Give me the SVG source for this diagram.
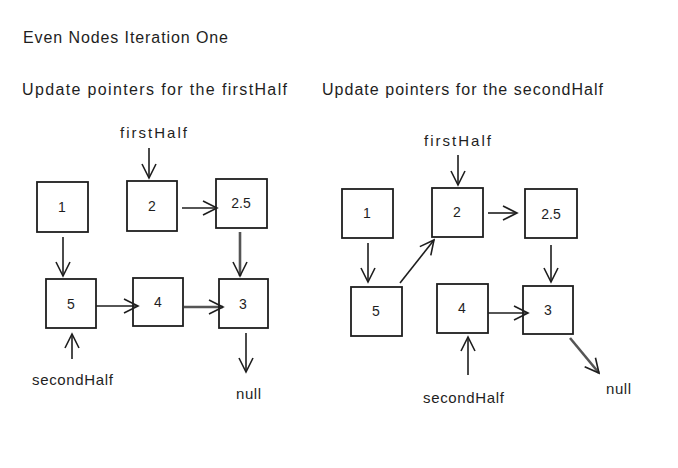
<svg xmlns="http://www.w3.org/2000/svg" width="678" height="468" viewBox="0 0 678 468">
<style>
.box{fill:none;stroke:#1e1e1e;stroke-width:1.8}
.t{font-family:"Liberation Sans",Arial,sans-serif;font-size:16px;fill:#1e1e1e}
.n{font-family:"Liberation Sans",Arial,sans-serif;font-size:14px;fill:#1e1e1e;text-anchor:middle;dominant-baseline:central}
.l{font-family:"Liberation Sans",Arial,sans-serif;font-size:15px;fill:#1e1e1e;dominant-baseline:central}
.c{fill:none;stroke:#1e1e1e;stroke-width:1.6;marker-end:url(#a)}
.c2{fill:none;stroke:#555;stroke-width:2.6;marker-end:url(#a)}
</style>
<defs>
<marker id="a" viewBox="0 0 20 20" refX="18" refY="10" markerWidth="20" markerHeight="20" markerUnits="userSpaceOnUse" orient="auto">
<path d="M4,3 L18,10 L4,17" fill="none" stroke="#1e1e1e" stroke-width="1.6"/>
</marker>
</defs>
<text class="t" x="23" y="43" textLength="205">Even Nodes Iteration One</text>
<text class="t" x="22" y="95" textLength="265">Update pointers for the firstHalf</text>
<text class="t" x="322" y="95" textLength="281">Update pointers for the secondHalf</text>

<g id="connectors">
<path class="c" d="M149,148 L149,178"/>
<path class="c" d="M182,208 L217,208"/>
<path class="c" d="M63,237 L63,276"/>
<path class="c2" d="M240,232 L240,276"/>
<path class="c" d="M96,306 L138,306"/>
<path class="c2" d="M184,307 L223,307"/>
<path class="c" d="M72,359 L72,334"/>
<path class="c" d="M246,333 L246,372"/>
<path class="c" d="M458,155 L458,185"/>
<path class="c" d="M488,213 L517,213"/>
<path class="c" d="M368,243 L368,282"/>
<path class="c" d="M551,245 L551,282"/>
<path class="c" d="M400,283 L434,240"/>
<path class="c" d="M488,313 L528,313"/>
<path class="c" d="M468,375 L468,337"/>
<path class="c2" d="M570,338 L599,373"/>
</g>

<g id="label-firstHalf-left"><text class="l" x="120" y="132" textLength="67">firstHalf</text></g>
<g id="L1"><rect class="box" x="37" y="182" width="51" height="50"/><text class="n" x="62" y="207">1</text></g>
<g id="L2"><rect class="box" x="127" y="181" width="50" height="50"/><text class="n" x="152" y="206">2</text></g>
<g id="L25"><rect class="box" x="216" y="179" width="51" height="49"/><text class="n" x="241" y="203">2.5</text></g>
<g id="L5"><rect class="box" x="46" y="279" width="50" height="49"/><text class="n" x="71" y="304">5</text></g>
<g id="L4"><rect class="box" x="133" y="278" width="50" height="48"/><text class="n" x="158" y="302">4</text></g>
<g id="L3"><rect class="box" x="219" y="279" width="49" height="49"/><text class="n" x="243" y="304">3</text></g>
<g id="label-secondHalf-left"><text class="l" x="32" y="379" textLength="81">secondHalf</text></g>
<g id="null-left"><text class="l" x="236" y="393" textLength="25">null</text></g>

<g id="label-firstHalf-right"><text class="l" x="424" y="140" textLength="67">firstHalf</text></g>
<g id="R1"><rect class="box" x="342" y="189" width="51" height="49"/><text class="n" x="367" y="213">1</text></g>
<g id="R2"><rect class="box" x="432" y="188" width="51" height="49"/><text class="n" x="457" y="212">2</text></g>
<g id="R25"><rect class="box" x="525" y="189" width="52" height="49"/><text class="n" x="551" y="214">2.5</text></g>
<g id="R5"><rect class="box" x="351" y="287" width="51" height="49"/><text class="n" x="376" y="311">5</text></g>
<g id="R4"><rect class="box" x="437" y="284" width="51" height="49"/><text class="n" x="462" y="308">4</text></g>
<g id="R3"><rect class="box" x="523" y="286" width="50" height="48"/><text class="n" x="548" y="310">3</text></g>
<g id="label-secondHalf-right"><text class="l" x="423" y="397" textLength="81">secondHalf</text></g>
<g id="null-right"><text class="l" x="606" y="388" textLength="25">null</text></g>
</svg>
